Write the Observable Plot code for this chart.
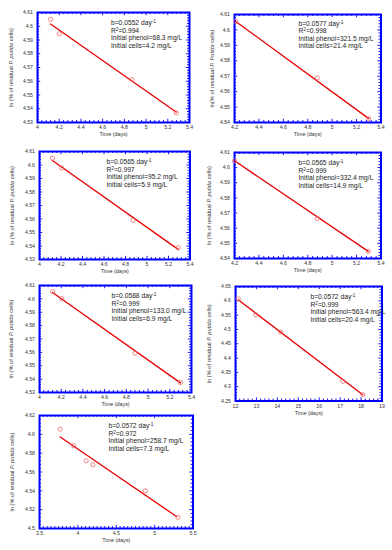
<!DOCTYPE html>
<html>
<head>
<meta charset="utf-8">
<script src="https://cdn.jsdelivr.net/npm/d3@7"></script>
<script src="https://cdn.jsdelivr.net/npm/@observablehq/plot@0.6"></script>
<style>
  html, body { margin: 0; padding: 0; background: #fff; }
  #fig { position: relative; width: 392px; height: 550px; background: #fff; overflow: hidden; }
  #fig svg { position: absolute; overflow: visible; background: transparent; }
</style>
</head>
<body>
<div id="fig"></div>
<script>
// ---------- data ----------
const xLabel = "Time (days)";
const yLabel = "ln (% of residual _P. putida_ cells)";
const yLabelAlt = "ln(% of residual _P. Putida_ cells)";

// panel 1
const p1Time = [4.12, 4.20, 4.87, 5.28];
const p1Ln = [4.605, 4.5945, 4.5612, 4.537];
const p1FitTime = [4.12, 5.28];
const p1FitLn = [4.6016, 4.5375];
const p1Notes = ["b=0.0552 day^{-1}", "R^{2}=0.994", "Initial phenol=68.3 mg/L", "Initial cells=4.2 mg/L"];
// panel 2
const p2Time = [4.21, 4.878, 5.30];
const p2Ln = [4.6055, 4.5689, 4.5425];
const p2FitTime = [4.21, 5.30];
const p2FitLn = [4.6055, 4.5425];
const p2Notes = ["b=0.0577 day^{-1}", "R^{2}=0.998", "Initial phenol=321.5 mg/L", "Initial cells=21.4 mg/L"];
// panel 3
const p3Time = [4.12, 4.206, 4.87, 5.29];
const p3Ln = [4.6051, 4.5978, 4.559, 4.5387];
const p3FitTime = [4.12, 5.29];
const p3FitLn = [4.6034, 4.5375];
const p3Notes = ["b=0.0565 day^{-1}", "R^{2}=0.997", "Initial phenol=95.2 mg/L", "Initial cells=5.9 mg/L"];
// panel 4
const p4Time = [4.20, 4.879, 5.296];
const p4Ln = [4.6045, 4.5664, 4.5447];
const p4FitTime = [4.20, 5.296];
const p4FitLn = [4.6045, 4.5447];
const p4Notes = ["b=0.0565 day^{-1}", "R^{2}=0.999", "Initial phenol=332.4 mg/L", "Initial cells=14.9 mg/L"];
// panel 5
const p5Time = [4.12, 4.206, 4.88, 5.298];
const p5Ln = [4.6053, 4.6001, 4.5594, 4.5374];
const p5FitTime = [4.12, 5.298];
const p5FitLn = [4.6048, 4.5372];
const p5Notes = ["b=0.0588 day^{-1}", "R^{2}=0.999", "Initial phenol=133.0 mg/L", "Initial cells=6.9 mg/L"];
// panel 6
const p6Time = [12.13, 12.97, 14.16, 17.13, 18.08];
const p6Ln = [4.607, 4.551, 4.491, 4.319, 4.272];
const p6FitTime = [12.13, 18.08];
const p6FitLn = [4.6036, 4.272];
const p6Notes = ["b=0.0572 day^{-1}", "R^{2}=0.999", "Initial phenol=563.4 mg/L", "Initial cells=20.4 mg/L"];
// panel 7
const p7Time = [3.77, 3.943, 4.108, 4.196, 4.878, 5.304];
const p7Ln = [4.6054, 4.588, 4.572, 4.5677, 4.540, 4.5118];
const p7FitTime = [3.77, 5.29];
const p7FitLn = [4.5972, 4.5125];
const p7Notes = ["b=0.0572 day^{-1}", "R^{2}=0.972", "Initial phenol=258.7 mg/L", "Initial cells=7.3 mg/L"];

// tick labels
const xTicksA = [4, 4.2, 4.4, 4.6, 4.8, 5, 5.2, 5.4];
const xTicksB = [4.2, 4.4, 4.6, 4.8, 5, 5.2, 5.4];
const xTicksC = [12, 13, 14, 15, 16, 17, 18, 19];
const xTicksD = [3.5, 4, 4.5, 5, 5.5];
const yTicksA = [4.53, 4.54, 4.55, 4.56, 4.57, 4.58, 4.59, 4.6, 4.61];
const yTicksB = [4.54, 4.55, 4.56, 4.57, 4.58, 4.59, 4.6, 4.61];
const yTicksC = [4.25, 4.3, 4.35, 4.4, 4.45, 4.5, 4.55, 4.6, 4.65];
const yTicksD = [4.5, 4.52, 4.54, 4.56, 4.58, 4.6, 4.62];

// ---------- layout (page pixels of each frame) ----------
const panels = [
  {time: p1Time, ln: p1Ln, fitT: p1FitTime, fitL: p1FitLn, notes: p1Notes, xt: xTicksA, yt: yTicksA, ylab: yLabel,
   L: 36.5, R: 188.5, T: 12, B: 122, labX: 10, ndx: 73.5, ndy: 10.7, xsub: 5, ysub: 5},
  {time: p2Time, ln: p2Ln, fitT: p2FitTime, fitL: p2FitLn, notes: p2Notes, xt: xTicksB, yt: yTicksB, ylab: yLabelAlt,
   L: 233.5, R: 380, T: 14, B: 122, labX: 211, ndx: 64, ndy: 9, xsub: 5, ysub: 5},
  {time: p3Time, ln: p3Ln, fitT: p3FitTime, fitL: p3FitLn, notes: p3Notes, xt: xTicksA, yt: yTicksA, ylab: yLabel,
   L: 39, R: 189.5, T: 151, B: 259, labX: 11.5, ndx: 67, ndy: 10.7, xsub: 5, ysub: 5},
  {time: p4Time, ln: p4Ln, fitT: p4FitTime, fitL: p4FitLn, notes: p4Notes, xt: xTicksB, yt: yTicksB, ylab: yLabel,
   L: 233.5, R: 380, T: 152, B: 258, labX: 208, ndx: 64, ndy: 10.7, xsub: 5, ysub: 5},
  {time: p5Time, ln: p5Ln, fitT: p5FitTime, fitL: p5FitLn, notes: p5Notes, xt: xTicksA, yt: yTicksA, ylab: yLabel,
   L: 39, R: 191, T: 284.5, B: 391.5, labX: 11, ndx: 72, ndy: 10.5, xsub: 5, ysub: 5},
  {time: p6Time, ln: p6Ln, fitT: p6FitTime, fitL: p6FitLn, notes: p6Notes, xt: xTicksC, yt: yTicksC, ylab: yLabel,
   L: 235, R: 381.5, T: 286, B: 400.5, labX: 208.5, ndx: 75, ndy: 10.7, xsub: 5, ysub: 5},
  {time: p7Time, ln: p7Ln, fitT: p7FitTime, fitL: p7FitLn, notes: p7Notes, xt: xTicksD, yt: yTicksD, ylab: yLabel,
   L: 38.5, R: 192, T: 415, B: 528, labX: 11, ndx: 69, ndy: 10.7, xsub: 10, ysub: 5}
];

const BLUE = "#0000ff";
const FONT = "'Liberation Sans', Arial, Helvetica, sans-serif";

function minor(ticks, sub) {
  const out = [];
  for (let i = 0; i < ticks.length - 1; i++)
    for (let j = 1; j < sub; j++) out.push(ticks[i] + (ticks[i + 1] - ticks[i]) * j / sub);
  return out;
}

function rich(s) {
  return s.replace(/\^\{([^}]*)\}/g, '<tspan baseline-shift="super" font-size="70%">$1</tspan>')
          .replace(/_([^_]*)_/g, '<tspan font-style="italic">$1</tspan>');
}

const fig = document.getElementById("fig");
const ml = 40, mr = 8, mt = 6, mb = 20;

for (const p of panels) {
  const iw = p.R - p.L, ih = p.B - p.T;
  const pts = p.time.map((t, i) => ({t, v: p.ln[i]}));
  const fit = p.fitT.map((t, i) => ({t, v: p.fitL[i]}));
  const mx = minor(p.xt, p.xsub), my = minor(p.yt, p.ysub);
  const majLen = 3.2, minLen = 2;
  const tickStyle = {stroke: BLUE, strokeWidth: 0.9};
  const marks = [
    // minor + major ticks on all four sides, inward
    Plot.ruleX(mx, {x: d => d, ...tickStyle, insetTop: ih - minLen}),
    Plot.ruleX(mx, {x: d => d, ...tickStyle, insetBottom: ih - minLen}),
    Plot.ruleY(my, {y: d => d, ...tickStyle, insetRight: iw - minLen}),
    Plot.ruleY(my, {y: d => d, ...tickStyle, insetLeft: iw - minLen}),
    Plot.ruleX(p.xt, {x: d => d, ...tickStyle, insetTop: ih - majLen}),
    Plot.ruleX(p.xt, {x: d => d, ...tickStyle, insetBottom: ih - majLen}),
    Plot.ruleY(p.yt, {y: d => d, ...tickStyle, insetRight: iw - majLen}),
    Plot.ruleY(p.yt, {y: d => d, ...tickStyle, insetLeft: iw - majLen}),
    Plot.frame({stroke: BLUE, strokeWidth: 2}),
    Plot.axisX({ticks: p.xt, tickSize: 0, tickPadding: 3.2, tickFormat: d => String(d), fill: "#333", fontSize: 5.2, label: null}),
    Plot.axisY({ticks: p.yt, tickSize: 0, tickPadding: 4.5, tickFormat: d => String(d), fill: "#333", fontSize: 5.2, label: null}),
    Plot.line(fit, {x: "t", y: "v", stroke: "#e80000", strokeWidth: 1.3}),
    Plot.dot(pts, {x: "t", y: "v", r: 2.1, stroke: "#f06a6a", strokeWidth: 0.8, fill: "none"}),
    ...p.notes.map((s, i) => Plot.text([s], {text: d => d, frameAnchor: "top-left", dx: p.ndx, dy: p.ndy + i * 7.5,
      textAnchor: "start", lineAnchor: "middle", fontSize: 6.7, fill: "#222"})),
    Plot.text([xLabel], {text: d => d, frameAnchor: "bottom", dy: 12, lineAnchor: "middle", fontSize: 5.4, fill: "#333"}),
    Plot.text([p.ylab], {text: d => d, frameAnchor: "left", dx: -(p.L - p.labX), rotate: -90, textAnchor: "middle",
      lineAnchor: "middle", fontSize: 5.7, fill: "#333"})
  ];
  const svg = Plot.plot({
    width: iw + ml + mr,
    height: ih + mt + mb,
    marginLeft: ml, marginRight: mr, marginTop: mt, marginBottom: mb,
    x: {domain: [p.xt[0], p.xt[p.xt.length - 1]], label: null},
    y: {domain: [p.yt[0], p.yt[p.yt.length - 1]], label: null},
    style: {fontFamily: FONT, fontSize: "5.2px", background: "transparent", overflow: "visible"},
    marks
  });
  svg.style.left = (p.L - ml) + "px";
  svg.style.top = (p.T - mt) + "px";
  svg.querySelectorAll("text").forEach(t => {
    if (/\^\{|_/.test(t.textContent)) t.innerHTML = rich(t.textContent);
  });
  fig.appendChild(svg);
}
</script>
</body>
</html>
